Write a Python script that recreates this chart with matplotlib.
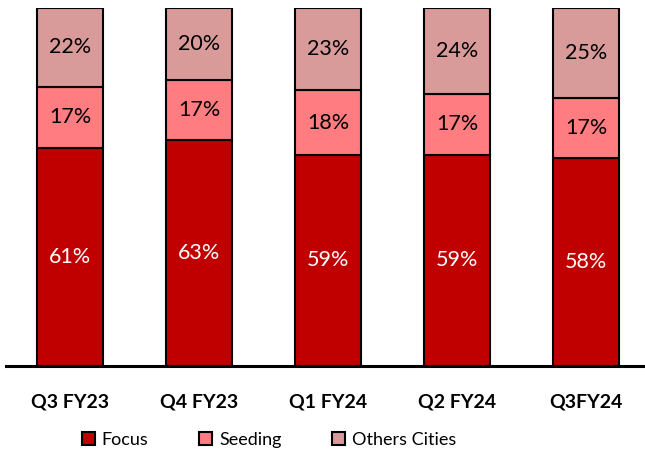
import matplotlib.pyplot as plt
import numpy as np

categories = ["Q3 FY23", "Q4 FY23", "Q1 FY24", "Q2 FY24", "Q3FY24"]
focus = [61, 63, 59, 59, 58]
seeding = [17, 17, 18, 17, 17]
others = [22, 20, 23, 24, 25]

series = [("Focus", focus, "#C00000", "white"),
          ("Seeding", seeding, "#FF7C80", "black"),
          ("Others Cities", others, "#D99A9A", "black")]

plt.rcParams["font.family"] = ["Lato", "DejaVu Sans"]

fig = plt.figure(figsize=(6.45, 4.55), dpi=100)
ax = fig.add_axes([5.5 / 645, 1 - 366 / 455, (645 - 5.5) / 645, (366 - 8) / 455])

x = np.arange(len(categories))
bottom = np.zeros(len(categories))
for name, vals, colour, txt in series:
    vals = np.array(vals)
    ax.bar(x, vals, 0.51, bottom=bottom, color=colour, edgecolor="black",
           linewidth=1.5, label=name, zorder=2)
    for xi, b, v in zip(x, bottom, vals):
        ax.text(xi, b + v / 2, f"{v}%", ha="center", va="center",
                fontsize=15.5, color=txt)
    bottom += vals

ax.set_xlim(-0.5, 4.457)
ax.set_ylim(0, 100)
ax.set_yticks([])
ax.set_xticks(x)
ax.set_xticklabels(categories, fontsize=14, fontweight="bold")
ax.tick_params(axis="x", length=0, pad=20)
for s in ["top", "right", "left"]:
    ax.spines[s].set_visible(False)
ax.spines["bottom"].set_linewidth(2.2)
ax.spines["bottom"].set_zorder(3)

fig.legend(*ax.get_legend_handles_labels(), loc="center",
           bbox_to_anchor=(269 / 645, 1 - 440 / 455), ncol=3,
           frameon=False, fontsize=13, handlelength=0.7, handleheight=0.7,
           handletextpad=0.4, columnspacing=2.8)

fig.savefig("out.png", dpi=100)
